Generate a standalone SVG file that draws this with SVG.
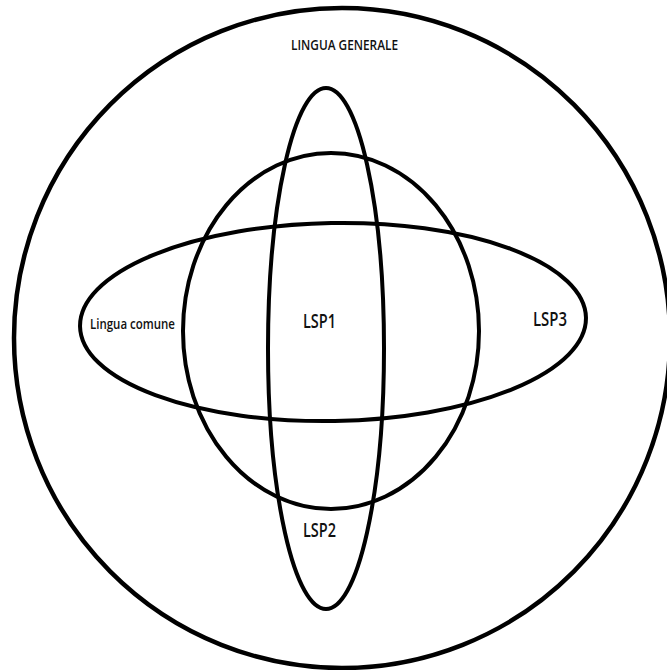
<svg xmlns="http://www.w3.org/2000/svg" width="667" height="670" viewBox="0 0 667 670">
<style>
.sh{fill:none;stroke:#000;stroke-width:4}
.t{font-family:"Open Sans","Liberation Sans",sans-serif;font-weight:600;fill:#111;}
</style>
<rect width="667" height="670" fill="#fff"/>
<g id="lingua-generale">
<ellipse class="sh" cx="342" cy="338" rx="328" ry="330" style="stroke-width:4.5"/>
<text class="t" x="291" y="50" font-size="15" textLength="107" lengthAdjust="spacingAndGlyphs">LINGUA GENERALE</text>
</g>
<g id="lsp2">
<ellipse class="sh" cx="326" cy="348.5" rx="58" ry="260.5"/>
<text class="t" x="303" y="537" font-size="19" textLength="33" lengthAdjust="spacingAndGlyphs">LSP2</text>
</g>
<g id="lsp1">
<ellipse class="sh" cx="331" cy="331" rx="148" ry="178"/>
<text class="t" x="303" y="328" font-size="19" textLength="33" lengthAdjust="spacingAndGlyphs">LSP1</text>
</g>
<g id="lsp3">
<ellipse class="sh" cx="333" cy="322" rx="253" ry="99" transform="rotate(-1 333 322)"/>
<text class="t" x="533" y="326" font-size="19" textLength="34" lengthAdjust="spacingAndGlyphs">LSP3</text>
</g>
<g id="lingua-comune">
<text class="t" x="90" y="329" font-size="14" textLength="85" lengthAdjust="spacingAndGlyphs">Lingua comune</text>
</g>
<g id="connectors"></g>
</svg>
